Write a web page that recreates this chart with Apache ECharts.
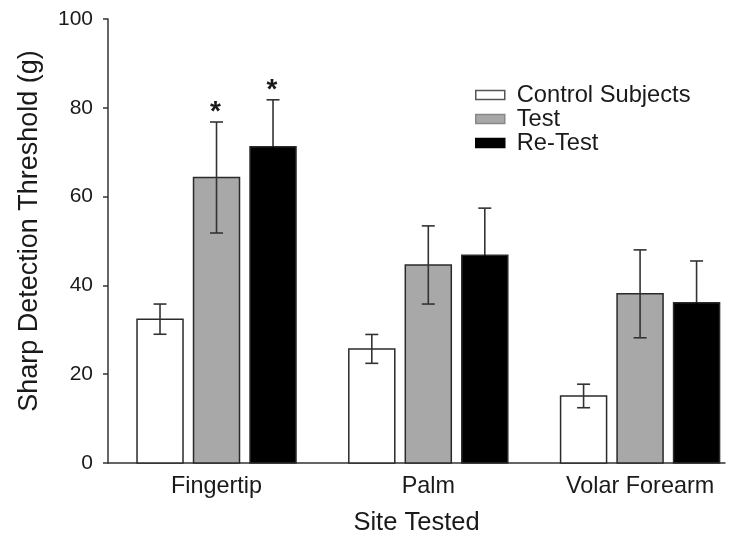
<!DOCTYPE html>
<html>
<head>
<meta charset="utf-8">
<script src="https://cdn.jsdelivr.net/npm/echarts@6/dist/echarts.min.js"></script>
<style>html,body{margin:0;padding:0;background:#fff}#c{width:737px;height:537px}</style>
</head>
<body>
<div id="c"></div>
<script>
const categories = ['Fingertip', 'Palm', 'Volar Forearm'];
const seriesNames = ['Control Subjects', 'Test', 'Re-Test'];
const controlMean = [32.4, 25.7, 15.1];
const controlErr = [3.4, 3.25, 2.65];
const testMean = [64.3, 44.6, 38.1];
const testErr = [12.5, 8.8, 9.9];
const retestMean = [71.2, 46.8, 36.1];
const retestErr = [10.6, 10.6, 9.4];
const controlStar = ['', '', ''];
const testStar = ['*', '', ''];
const retestStar = ['*', '', ''];
const yTicks = [0, 20, 40, 60, 80, 100];

const FONT = '"Liberation Sans", Arial, sans-serif';
const TXT = '#1a1a1a';
const EDGE = '#2a2a2a';
const fills = ['#ffffff', '#a8a8a8', '#000000'];
const offsets = [-56.5, 0, 56.5];
const BAR_W = 46;
const CAP = 13;

function makeSeries(k, means, errs, stars) {
  return {
    type: 'custom',
    name: seriesNames[k],
    clip: false,
    itemStyle: { color: fills[k], borderColor: EDGE, borderWidth: 1.5 },
    data: categories.map((c, i) => [i + 1, means[i], errs[i]]),
    renderItem: function (params, api) {
      const x = api.value(0), y = api.value(1), e = api.value(2);
      const topPt = api.coord([x, y]);
      const basePt = api.coord([x, 0]);
      const hi = api.coord([x, y + e]);
      const lo = api.coord([x, y - e]);
      const cx = topPt[0] + offsets[k];
      const lowColor = k === 2 ? '#000' : '#333';
      const children = [
        {
          type: 'rect',
          shape: { x: cx - BAR_W / 2, y: topPt[1], width: BAR_W, height: basePt[1] - topPt[1] },
          style: { fill: fills[k], stroke: EDGE, lineWidth: 1.5 }
        },
        {
          type: 'line',
          shape: { x1: cx, y1: hi[1], x2: cx, y2: topPt[1] },
          style: { stroke: '#333', lineWidth: 1.6 }
        },
        {
          type: 'line',
          shape: { x1: cx, y1: topPt[1], x2: cx, y2: lo[1] },
          style: { stroke: lowColor, lineWidth: 1.6 }
        },
        {
          type: 'line',
          shape: { x1: cx - CAP / 2, y1: hi[1], x2: cx + CAP / 2, y2: hi[1] },
          style: { stroke: '#333', lineWidth: 1.6 }
        },
        {
          type: 'line',
          shape: { x1: cx - CAP / 2, y1: lo[1], x2: cx + CAP / 2, y2: lo[1] },
          style: { stroke: lowColor, lineWidth: 1.6 }
        }
      ];
      const s = stars[params.dataIndex];
      if (s) {
        children.push({
          type: 'text',
          style: {
            text: s, x: cx - 1, y: hi[1] - 10,
            font: 'bold 28px ' + FONT, fill: TXT,
            align: 'center', verticalAlign: 'middle'
          }
        });
      }
      return { type: 'group', children: children };
    }
  };
}

const chart = echarts.init(document.getElementById('c'), null, { renderer: 'canvas' });
chart.setOption({
  animation: false,
  backgroundColor: '#fff',
  grid: { left: 108, right: 12, top: 19, bottom: 74, containLabel: false, outerBoundsMode: 'none' },
  legend: {
    orient: 'vertical',
    left: 470,
    top: 78,
    itemWidth: 29,
    itemHeight: 9,
    itemGap: 0,
    icon: 'rect',
    textStyle: { fontFamily: FONT, fontSize: 23.7, color: TXT, lineHeight: 24, padding: [0, 0, 0, 7] },
    data: seriesNames.map((n, k) => ({
      name: n,
      itemStyle: { color: fills[k], borderColor: k === 0 ? '#555' : (k === 1 ? '#888' : '#000'), borderWidth: 1.5 }
    }))
  },
  xAxis: {
    type: 'value',
    min: 0.4876,
    max: 3.401,
    name: 'Site Tested',
    nameLocation: 'middle',
    nameGap: 47,
    nameTextStyle: { fontFamily: FONT, fontSize: 25.5, color: TXT },
    axisLine: { show: true, onZero: false, lineStyle: { color: '#333', width: 1.5 } },
    axisTick: { show: false },
    splitLine: { show: false },
    axisLabel: {
      customValues: [1, 2, 3],
      formatter: v => categories[Math.round(v) - 1] || '',
      fontFamily: FONT, fontSize: 23.4, color: TXT, margin: 12
    }
  },
  yAxis: {
    type: 'value',
    min: yTicks[0],
    max: yTicks[yTicks.length - 1],
    interval: yTicks[1] - yTicks[0],
    name: 'Sharp Detection Threshold (g)',
    nameLocation: 'middle',
    nameGap: 65,
    nameTextStyle: { fontFamily: FONT, fontSize: 27, color: TXT, padding: [0, 0, 0, 20] },
    axisLine: { show: true, lineStyle: { color: '#333', width: 1.5 } },
    axisTick: { show: true, length: 5, inside: false, lineStyle: { color: '#333', width: 1.5 } },
    splitLine: { show: false },
    axisLabel: { fontFamily: FONT, fontSize: 21, color: TXT, margin: 15 }
  },
  series: [
    makeSeries(0, controlMean, controlErr, controlStar),
    makeSeries(1, testMean, testErr, testStar),
    makeSeries(2, retestMean, retestErr, retestStar)
  ]
});
</script>
</body>
</html>
